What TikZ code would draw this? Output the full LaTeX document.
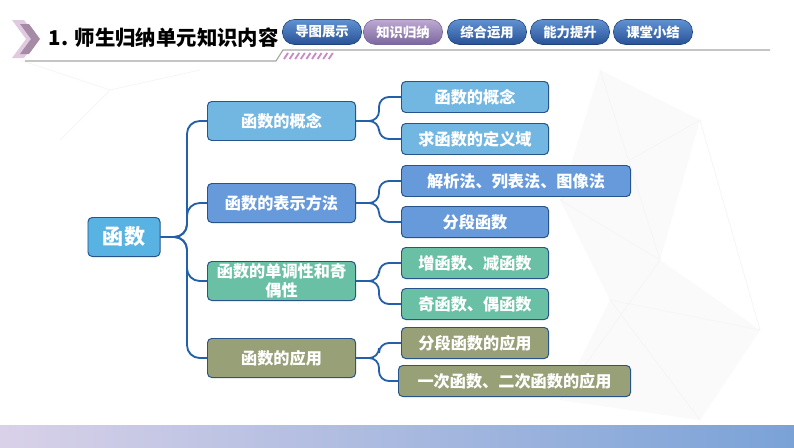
\documentclass[tikz,border=0pt]{standalone}
\usepackage{fontspec}
\setmainfont{Noto Sans CJK SC}
\usepackage{tikz}
\definecolor{linkblue}{RGB}{36, 96, 170}
\definecolor{edgeblue}{RGB}{40, 84, 140}
\definecolor{rootfill}{RGB}{88, 178, 226}
\definecolor{skyfill}{RGB}{114, 182, 226}
\definecolor{bluefill}{RGB}{102, 154, 218}
\definecolor{tealfill}{RGB}{106, 192, 164}
\definecolor{olivefill}{RGB}{152, 160, 120}
\definecolor{tabtop}{RGB}{96, 146, 210}
\definecolor{tabbot}{RGB}{40, 82, 150}
\definecolor{tabptop}{RGB}{190, 170, 210}
\definecolor{tabpbot}{RGB}{122, 102, 156}
\definecolor{bandleft}{RGB}{217, 209, 232}
\definecolor{bandright}{RGB}{122, 162, 215}
\tikzset{
  box/.style={draw=edgeblue, line width=0.7pt, rounded corners=3pt, text=white, align=center},
  rootbox/.style={box, fill=rootfill, minimum width=1.8cm, minimum height=0.975cm, font=\fontsize{15}{17}\selectfont\bfseries},
  lvone/.style={box, anchor=west, minimum width=3.7cm, minimum height=0.975cm, inner sep=1pt, font=\fontsize{11.5}{13.5}\selectfont\bfseries},
  lvtwo/.style={box, anchor=west, minimum width=3.675cm, minimum height=0.775cm, font=\fontsize{11.5}{14}\selectfont\bfseries},
  link/.style={draw=linkblue, line width=1.3pt, rounded corners=9pt},
  tab/.style={rounded corners=8.5pt, minimum width=1.975cm, minimum height=0.625cm, text=white, font=\fontsize{9.5}{11}\selectfont\bfseries, top color=tabtop, bottom color=tabbot, draw=tabbot!80!black, line width=0.4pt}
}
\begin{document}
\begin{tikzpicture}[x=0.025cm, y=-0.025cm]
    \useasboundingbox (0,0) rectangle (794,447);
    \fill[white] (0,0) rectangle (794,447);

    % faint background network
    \begin{scope}[gray!8, line width=0.5pt]
      \fill[gray!4] (600,70) -- (700,120) -- (660,260) -- (760,330) -- (700,420) -- (560,400) -- (610,300) -- (560,200) -- cycle;
      \draw (600,70) -- (660,260) -- (560,200) -- (700,120) -- (760,330) -- (610,300) -- (700,420) (560,400) -- (660,260);
      \draw (20,60) -- (110,90) -- (60,140) (110,90) -- (200,70);
    \end{scope}

    % Header icon and title
    \fill[gray!35!violet!25] (12,20) -- (24,20) -- (38,39) -- (24,58) -- (12,58) -- (26,39) -- cycle;
    \fill[violet!30!gray!70] (20,24) -- (29,24) -- (40,39) -- (29,54) -- (20,54) -- (31,39) -- cycle;
    \node[anchor=west, font=\fontsize{14.5}{16}\selectfont\bfseries] (title) at (44,38) {1. 师生归纳单元知识内容};
    \draw[gray!70, line width=0.8pt] (25,61) -- (276,61) -- (283,50) -- (770,50);
    \foreach \i in {0,...,8}
      \draw[violet!45, line width=1.3pt] (284+\i*5.6,59) -- (288+\i*5.6,53);

    % Navigation tabs
    \node[tab] (tabA) at (322,32) {导图展示};
    \node[tab, top color=tabptop, bottom color=tabpbot, draw=tabpbot] (tabB) at (403,32) {知识归纳};
    \node[tab] (tabC) at (487,32) {综合运用};
    \node[tab] (tabD) at (570,32) {能力提升};
    \node[tab] (tabE) at (653,32) {课堂小结};

    % Root
    \node[rootbox] (root) at (124,237) {函数};

    % First level
    \node[lvone, fill=skyfill] (f1) at (207,121) {函数的概念};
    \node[lvone, fill=bluefill] (f2) at (207,203) {函数的表示方法};
    \node[lvone, fill=tealfill] (f3) at (207,281) {函数的单调性和奇\\偶性};
    \node[lvone, fill=olivefill] (f4) at (207,358) {函数的应用};

    % Second level
    \node[lvtwo, fill=skyfill] (s1) at (401,97) {函数的概念};
    \node[lvtwo, fill=skyfill] (s2) at (401,139) {求函数的定义域};
    \node[lvtwo, fill=bluefill, minimum width=5.725cm] (s3) at (401,181) {解析法、列表法、图像法};
    \node[lvtwo, fill=bluefill] (s4) at (401,222) {分段函数};
    \node[lvtwo, fill=tealfill] (s5) at (401,263) {增函数、减函数};
    \node[lvtwo, fill=tealfill] (s6) at (401,304) {奇函数、偶函数};
    \node[lvtwo, fill=olivefill] (s7) at (401,343) {分段函数的应用};
    \node[lvtwo, fill=olivefill, minimum width=5.8cm] (s8) at (398,381) {一次函数、二次函数的应用};

    % Connectors
    \coordinate (busA) at (187,237);
    \coordinate (busB) at (379,237);
    \foreach \n in {f1,f2,f3,f4}
      \draw[link] (root.east) -| (\n.west -| busA) -- (\n.west);
    \foreach \p/\a in {f1/s1,f1/s2,f2/s3,f2/s4,f3/s5,f3/s6,f4/s7,f4/s8}
      \draw[link, rounded corners=7pt] (\p.east) -| (\a.west -| busB) -- (\a.west);

    % Bottom band
    \shade[left color=bandleft, right color=bandright] (0,425) rectangle (794,447);
\end{tikzpicture}
\end{document}
